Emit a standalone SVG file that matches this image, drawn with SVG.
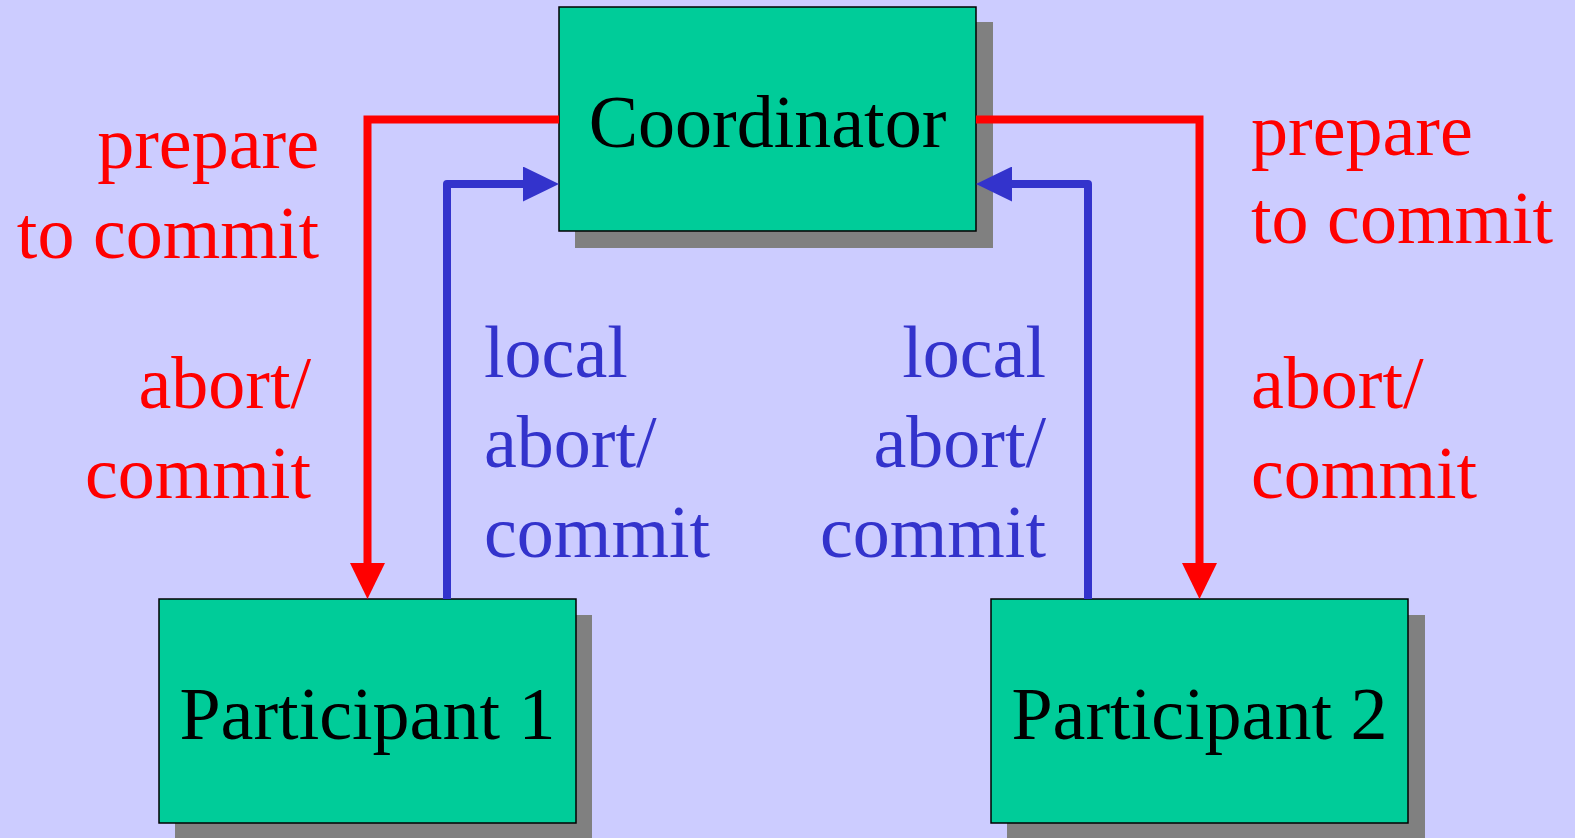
<svg xmlns="http://www.w3.org/2000/svg" width="1575" height="838" viewBox="0 0 1575 838">
  <style>
    .shadow { fill: #808080; }
    .box { fill: #00CC99; stroke: #000000; stroke-width: 1.5; }
    .name { font-family: "Liberation Serif", "Times New Roman", serif; font-size: 74px; fill: #000000; text-anchor: middle; }
    .lbl { font-family: "Liberation Serif", "Times New Roman", serif; font-size: 74px; }
    .red { fill: #FF0000; }
    .blue { fill: #3333CC; }
    .wire-red { fill: none; stroke: #FF0000; stroke-width: 8; stroke-linejoin: miter; }
    .wire-blue { fill: none; stroke: #3333CC; stroke-width: 8; stroke-linejoin: round; }
  </style>
  <defs>
    <marker id="headRed" viewBox="0 0 36 35" refX="0" refY="17.5" markerWidth="36" markerHeight="35" markerUnits="userSpaceOnUse" orient="auto">
      <path d="M0,0 L36,17.5 L0,35 Z" fill="#FF0000"/>
    </marker>
    <marker id="headBlue" viewBox="0 0 36 35" refX="0" refY="17.5" markerWidth="36" markerHeight="35" markerUnits="userSpaceOnUse" orient="auto">
      <path d="M0,0 L36,17.5 L0,35 Z" fill="#3333CC"/>
    </marker>
  </defs>

  <rect x="0" y="0" width="1575" height="838" fill="#CCCCFF"/>

  <g id="coordinator">
    <rect class="shadow" x="575" y="22" width="418" height="226"/>
    <rect class="box" x="559" y="7" width="417" height="224"/>
    <text class="name" x="767.5" y="147">Coordinator</text>
  </g>

  <g id="participant1">
    <rect class="shadow" x="175" y="615" width="417" height="230"/>
    <rect class="box" x="159" y="599" width="417" height="224"/>
    <text class="name" x="367.5" y="739">Participant 1</text>
  </g>

  <g id="participant2">
    <rect class="shadow" x="1007" y="615" width="418" height="230"/>
    <rect class="box" x="991" y="599" width="417" height="224"/>
    <text class="name" x="1199.5" y="739">Participant 2</text>
  </g>

  <g id="connectors">
    <path class="wire-red" d="M559,119.5 H367.5 V563" marker-end="url(#headRed)"/>
    <path class="wire-blue" d="M447,599 V184 H523" marker-end="url(#headBlue)"/>
    <path class="wire-red" d="M976,119.5 H1199.5 V563" marker-end="url(#headRed)"/>
    <path class="wire-blue" d="M1088,599 V184 H1012" marker-end="url(#headBlue)"/>
  </g>

  <g id="labels">
    <text class="lbl red" text-anchor="end" x="319" y="168">prepare</text>
    <text class="lbl red" text-anchor="end" x="319" y="258">to commit</text>
    <text class="lbl red" text-anchor="end" x="311" y="408">abort/</text>
    <text class="lbl red" text-anchor="end" x="311" y="498">commit</text>

    <text class="lbl blue" x="484" y="377">local</text>
    <text class="lbl blue" x="484" y="467">abort/</text>
    <text class="lbl blue" x="484" y="557">commit</text>

    <text class="lbl blue" text-anchor="end" x="1046" y="377">local</text>
    <text class="lbl blue" text-anchor="end" x="1046" y="467">abort/</text>
    <text class="lbl blue" text-anchor="end" x="1046" y="557">commit</text>

    <text class="lbl red" x="1251" y="155">prepare</text>
    <text class="lbl red" x="1251" y="243">to commit</text>
    <text class="lbl red" x="1251" y="408">abort/</text>
    <text class="lbl red" x="1251" y="498">commit</text>
  </g>
</svg>
